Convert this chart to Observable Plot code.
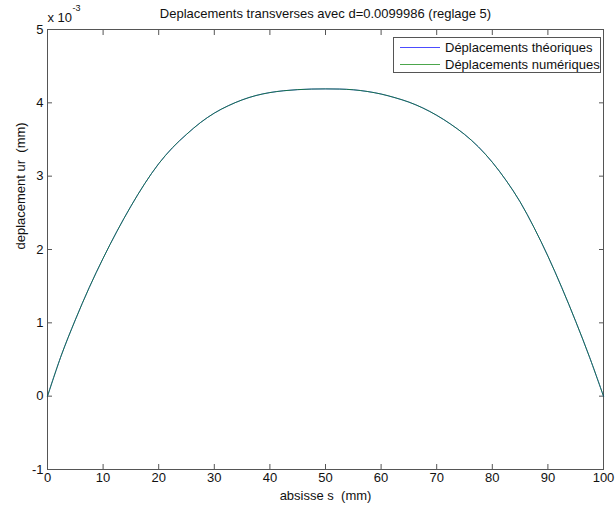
<!DOCTYPE html>
<html><head><meta charset="utf-8">
<script src="https://cdn.jsdelivr.net/npm/d3@7"></script>
<script src="https://cdn.jsdelivr.net/npm/@observablehq/plot@0.6"></script>
<style>
body{margin:0;background:#fff;font-family:"Liberation Sans",Arial,sans-serif;}
#wrap{position:relative;width:616px;height:506px;}
#legend{position:absolute;left:393px;top:37px;width:208px;height:36px;box-sizing:border-box;border:1px solid #555;background:#fff;font-size:13px;color:#111;}
.row{position:absolute;left:0;height:16px;display:flex;align-items:center;white-space:nowrap;}
.sw{display:inline-block;width:40px;height:0;border-top:1px solid;margin-left:6px;margin-right:5px;opacity:0.7;}
</style></head><body><div id="wrap"></div>
<script>
// abscissa s (mm)
const s = [0,2.5,5,7.5,10,12.5,15,17.5,20,22.5,25,27.5,30,32.5,35,37.5,40,42.5,45,47.5,50,52.5,55,57.5,60,62.5,65,67.5,70,72.5,75,77.5,80,82.5,85,87.5,90,92.5,95,97.5,100];
// displacement (x 10^-3 mm)
const theoriques = [0,0.56,1.04,1.48,1.88,2.25,2.59,2.90,3.17,3.39,3.57,3.73,3.86,3.96,4.04,4.10,4.14,4.165,4.18,4.188,4.19,4.188,4.178,4.155,4.12,4.07,4.01,3.93,3.83,3.71,3.57,3.40,3.19,2.94,2.65,2.30,1.91,1.48,1.02,0.53,0];
const numeriques = [0,0.56,1.04,1.48,1.88,2.25,2.59,2.90,3.17,3.39,3.57,3.73,3.86,3.96,4.04,4.10,4.14,4.165,4.18,4.188,4.19,4.188,4.178,4.155,4.12,4.07,4.01,3.93,3.83,3.71,3.57,3.40,3.19,2.94,2.65,2.30,1.91,1.48,1.02,0.53,0];
const seriesNames = ["Déplacements théoriques","Déplacements numériques"];
const seriesColors = ["#0000ff","#008000"];
const xTicks = [0,10,20,30,40,50,60,70,80,90,100];
const yTicks = [-1,0,1,2,3,4,5];
const titleText = "Deplacements transverses avec d=0.0099986 (reglage 5)";
const xLabel = "absisse s\u00a0 (mm)";
const yLabel = "deplacement ur\u00a0 (mm)";

const rows = [theoriques, numeriques].flatMap((vals, k) =>
  s.map((v, i) => ({s: v, u: vals[i], name: seriesNames[k]})));

const font = '"Liberation Sans",Arial,sans-serif';
const axisCol = "#555";
const fmt = d => String(d);
const plot = Plot.plot({
  width: 616, height: 506,
  marginLeft: 47, marginRight: 13, marginTop: 29, marginBottom: 37,
  style: {fontFamily: font, fontSize: "13px", color: "#111", background: "#fff", overflow: "visible"},
  x: {domain: [0, 100]},
  y: {domain: [-1, 5]},
  color: {domain: seriesNames, range: seriesColors},
  marks: [
    Plot.frame({stroke: axisCol}),
    Plot.axisX(xTicks, {anchor: "bottom", tickSize: -5, tickPadding: 8, stroke: axisCol, fill: "#111", label: null, fontSize: 13, tickFormat: fmt}),
    Plot.axisX(xTicks, {anchor: "top", tickSize: -5, stroke: axisCol, fill: "none", label: null}),
    Plot.axisY(yTicks, {anchor: "left", tickSize: -5, tickPadding: 9, stroke: axisCol, fill: "#111", label: null, fontSize: 13, tickFormat: fmt}),
    Plot.axisY(yTicks, {anchor: "right", tickSize: -5, stroke: axisCol, fill: "none", label: null}),
    Plot.line(rows, {x: "s", y: "u", z: "name", stroke: "name", strokeWidth: 0.9, strokeOpacity: 0.8, curve: "catmull-rom"}),
    Plot.text([titleText], {frameAnchor: "top", dy: -16, lineAnchor: "middle", fontSize: 13, fill: "#111"}),
    Plot.text(["x 10"], {frameAnchor: "top-left", textAnchor: "start", dy: -12, lineAnchor: "middle", fontSize: 13, fill: "#111"}),
    Plot.text(["-3"], {frameAnchor: "top-left", textAnchor: "start", dx: 25, dy: -21, lineAnchor: "middle", fontSize: 9, fill: "#111"}),
    Plot.text([xLabel], {frameAnchor: "bottom", dy: 26, lineAnchor: "middle", fontSize: 13, fill: "#111"}),
    Plot.text([yLabel], {frameAnchor: "left", dx: -27, rotate: -90, lineAnchor: "middle", fontSize: 13, fill: "#111"})
  ]
});
const wrap = document.getElementById("wrap");
wrap.appendChild(plot);

const legend = document.createElement("div");
legend.id = "legend";
seriesNames.forEach((n, k) => {
  const r = document.createElement("div");
  r.className = "row";
  r.style.top = (k === 0 ? 1 : 18) + "px";
  const sw = document.createElement("span");
  sw.className = "sw";
  sw.style.borderTopColor = seriesColors[k];
  const t = document.createElement("span");
  t.textContent = n;
  r.appendChild(sw); r.appendChild(t);
  legend.appendChild(r);
});
wrap.appendChild(legend);
</script>
</body></html>
